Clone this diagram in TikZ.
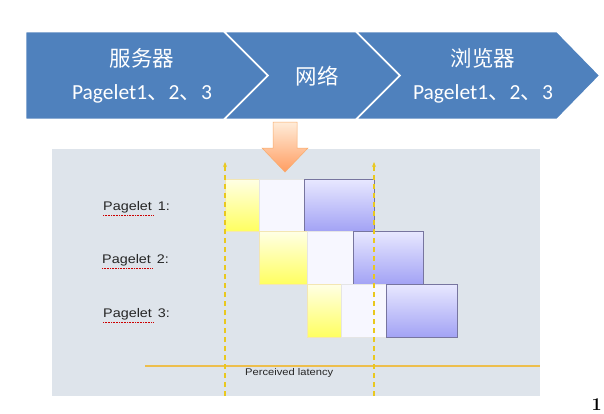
\documentclass[tikz,border=0pt]{standalone}
\usepackage{fontspec}
\newfontfamily\calx{Carlito}
\newfontfamily\cjk{Noto Sans CJK SC}
\newfontfamily\arialx[FakeStretch=1.15]{Liberation Sans}
\usetikzlibrary{arrows.meta}
\definecolor{chev}{HTML}{4F81BD}
\definecolor{panel}{HTML}{DEE4EB}
\definecolor{latline}{HTML}{EDBE4C}
\definecolor{dashy}{HTML}{E9C81E}
\definecolor{arrowbd}{HTML}{F79646}
\definecolor{pborder}{HTML}{77759F}
\tikzset{
  chevshape/.style={fill=chev,draw=white,line width=1.6pt,line join=miter},
  chevtext/.style={text=white,inner sep=0pt,font=\calx\fontsize{21.5}{24}\selectfont},
  ybox/.style={top color=yellow!10!white,bottom color=yellow!62!white,draw=yellow!45!brown!35!white,line width=0.4pt},
  wbox/.style={fill=white!97!blue,draw=gray!20,line width=0.4pt},
  pbox/.style={top color=blue!9!white,bottom color=blue!35!white!92!gray,draw=pborder,line width=0.5pt},
  plabel/.style={inner sep=0pt,font=\arialx\fontsize{12.5}{14}\selectfont,text=black!85},
  spell/.style={red!80!black,line width=0.5pt,dash pattern=on 0.8pt off 0.8pt},
  timeline/.style={dashy,line width=1.3pt,dash pattern=on 5pt off 4pt,-{Stealth[length=5pt,width=4pt]}},
}
\begin{document}
\begin{tikzpicture}[x=1pt,y=-1pt]
\useasboundingbox (0,0) rectangle (604,413);
\fill[white] (0,0) rectangle (604,413);
% chevrons
\path[chevshape] (25.5,31.5) -- (224,31.5) -- (268,75.5) -- (224,119.5) -- (25.5,119.5) -- cycle;
\path[chevshape] (224,31.5) -- (356,31.5) -- (400,75.5) -- (356,119.5) -- (224,119.5) -- (268,75.5) -- cycle;
\path[chevshape] (356,31.5) -- (557,31.5) -- (600,75.5) -- (557,119.5) -- (356,119.5) -- (400,75.5) -- cycle;
\node[chevtext] (srv) at (142,58) {\cjk 服务器};
\node[chevtext] (srvp) at (142,94) {Pagelet1{\cjk 、}2{\cjk 、}3};
\node[chevtext] (net) at (317,76) {\cjk 网络};
\node[chevtext] (brw) at (483,58) {\cjk 浏览器};
\node[chevtext] (brwp) at (483,94) {Pagelet1{\cjk 、}2{\cjk 、}3};
% panel
\fill[panel] (52,149) rectangle (540,396);
% down arrow
\path[top color=orange!15!white,bottom color=orange!55!white!85!red,draw=arrowbd!80!white,line width=0.5pt]
  (273,122) -- (297,122) -- (297,148) -- (308,148) -- (285,172) -- (262,148) -- (273,148) -- cycle;
% boxes row 1
\path[ybox] (225,179) rectangle (259,231);
\path[wbox] (259,179) rectangle (304,231);
\path[pbox] (304,179) rectangle (374,231);
% row 2
\path[ybox] (259,231) rectangle (307,284);
\path[wbox] (307,231) rectangle (353,284);
\path[pbox] (353,231) rectangle (423,284);
% row 3
\path[ybox] (307,284) rectangle (341,337);
\path[wbox] (341,284) rectangle (386,337);
\path[pbox] (386,284) rectangle (457,337);
% labels
\node[plabel,anchor=west] (p1) at (103,207) {Pagelet\hspace{2pt} 1:};
\node[plabel,anchor=west] (p2) at (102,260) {Pagelet\hspace{2pt} 2:};
\node[plabel,anchor=west] (p3) at (103,314) {Pagelet\hspace{2pt} 3:};
\draw[spell] (103,215.5) -- (153,215.5);
\draw[spell] (102,268.5) -- (152,268.5);
\draw[spell] (103,322.5) -- (153,322.5);
% latency line
\coordinate (l0) at (145,366);
\coordinate (l1) at (540,366);
\draw[latline,line width=2pt] (l0) -- (l1);
\node[inner sep=0pt,anchor=west,font=\arialx\fontsize{9.7}{11}\selectfont,text=black!85] (lat) at (245,373) {Perceived latency};
% dashed timelines
\coordinate (a0) at (225,396);
\coordinate (a1) at (225,162);
\coordinate (b0) at (374,396);
\coordinate (b1) at (374,162);
\draw[timeline] (a0) -- (a1);
\draw[timeline] (b0) -- (b1);
% page number
\node[inner sep=0pt,anchor=south east,font=\fontsize{18}{20}\selectfont\bfseries] (pg) at (602,411) {1};
\end{tikzpicture}
\end{document}
